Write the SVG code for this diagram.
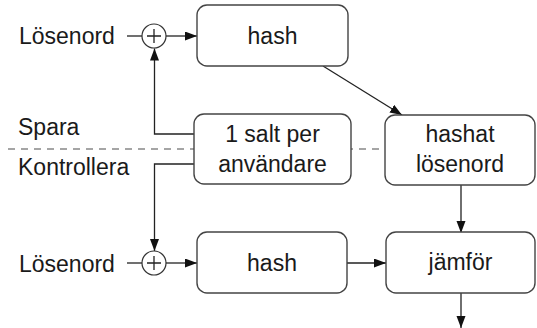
<svg xmlns="http://www.w3.org/2000/svg" width="537" height="328" viewBox="0 0 537 328">
<style>
  .box{fill:#fff;stroke:#444;stroke-width:1.4}
  .circ{fill:#fff;stroke:#333;stroke-width:1.2}
  .ln{fill:none;stroke:#222;stroke-width:1.3}
  .dash{fill:none;stroke:#888;stroke-width:1.4;stroke-dasharray:7 6}
  text{font-family:"Liberation Sans",Arial,sans-serif;font-size:23px;fill:#1a1a1a}
  .c{text-anchor:middle}
</style>
<defs>
  <marker id="arr" markerUnits="userSpaceOnUse" markerWidth="13" markerHeight="10" refX="12" refY="4.5" orient="auto">
    <path d="M0,0 L12,4.5 L0,9 z" fill="#111"/>
  </marker>
</defs>
<line class="dash" x1="8" y1="149" x2="536" y2="149"/>
<g id="labels">
  <text x="19" y="44">Lösenord</text>
  <text x="19" y="272">Lösenord</text>
  <text x="18" y="135">Spara</text>
  <text x="18" y="175">Kontrollera</text>
</g>
<g id="connectors">
  <line class="ln" x1="127" y1="36" x2="142" y2="36"/>
  <line class="ln" x1="166" y1="36" x2="197" y2="36" marker-end="url(#arr)"/>
  <line class="ln" x1="127" y1="263" x2="142" y2="263"/>
  <line class="ln" x1="166" y1="263" x2="197" y2="263" marker-end="url(#arr)"/>
  <polyline class="ln" points="194,134 154.5,134 154.5,48.5" marker-end="url(#arr)"/>
  <polyline class="ln" points="194,164 154.5,164 154.5,251" marker-end="url(#arr)"/>
  <line class="ln" x1="323" y1="66" x2="402" y2="115" marker-end="url(#arr)"/>
  <line class="ln" x1="461" y1="185" x2="461" y2="233" marker-end="url(#arr)"/>
  <line class="ln" x1="347" y1="263" x2="386" y2="263" marker-end="url(#arr)"/>
  <line class="ln" x1="461" y1="293" x2="461" y2="328" marker-end="url(#arr)"/>
</g>
<g id="plus-top">
  <circle class="circ" cx="154" cy="36" r="12"/>
  <path class="ln" d="M147,36 H161 M154,29 V43"/>
</g>
<g id="plus-bottom">
  <circle class="circ" cx="154" cy="263" r="12"/>
  <path class="ln" d="M147,263 H161 M154,256 V270"/>
</g>
<g id="hash-top">
  <rect class="box" x="197" y="5" width="151" height="61" rx="10"/>
  <text class="c" x="272.5" y="44">hash</text>
</g>
<g id="salt">
  <rect class="box" x="194" y="114" width="157" height="70" rx="10"/>
  <text class="c" x="272.5" y="142">1 salt per</text>
  <text class="c" x="272.5" y="172">användare</text>
</g>
<g id="hashat">
  <rect class="box" x="385" y="115" width="150" height="70" rx="10"/>
  <text class="c" x="460" y="142">hashat</text>
  <text class="c" x="460" y="172">lösenord</text>
</g>
<g id="hash-bottom">
  <rect class="box" x="197" y="232" width="150" height="61" rx="10"/>
  <text class="c" x="272" y="271">hash</text>
</g>
<g id="jamfor">
  <rect class="box" x="386" y="232" width="149" height="61" rx="10"/>
  <text class="c" x="460.5" y="270">jämför</text>
</g>
</svg>
